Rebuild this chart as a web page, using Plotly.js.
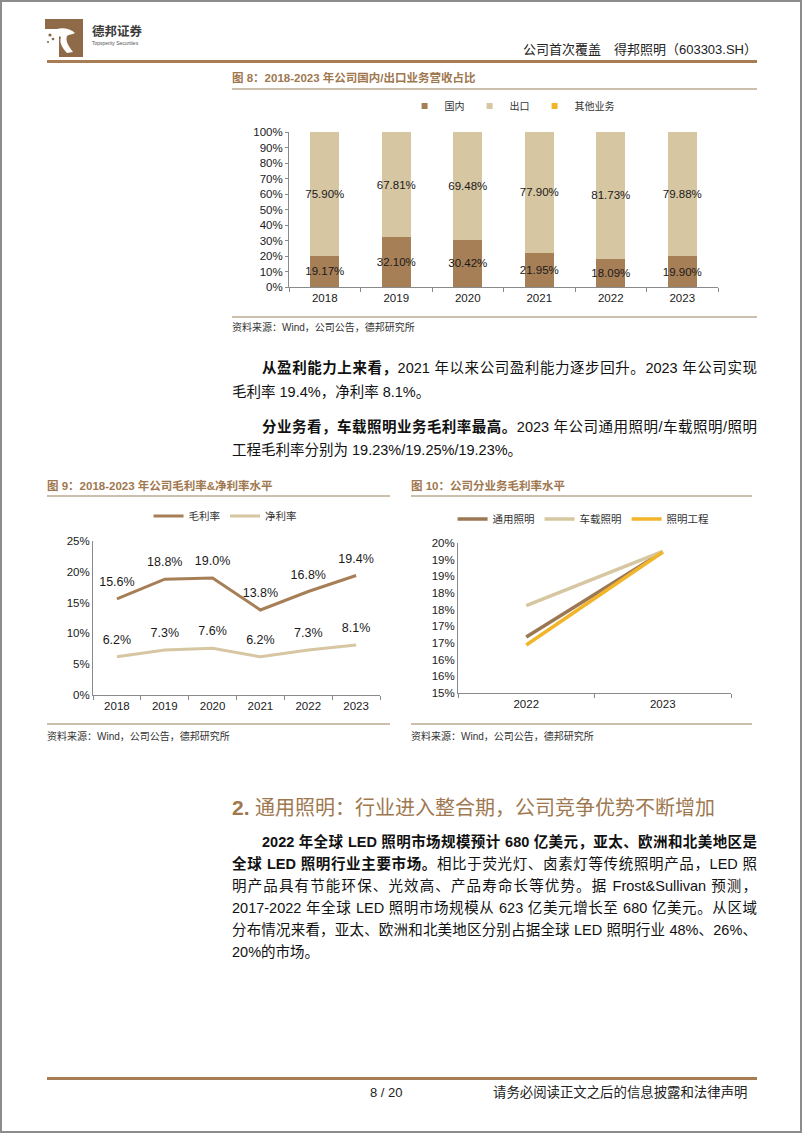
<!DOCTYPE html>
<html><head><meta charset="utf-8">
<script src="https://cdn.plot.ly/plotly-3.0.1.min.js"></script>
<style>
html,body{margin:0;padding:0;background:#fff;}
#page{position:relative;width:802px;height:1133px;overflow:hidden;font-family:"Liberation Sans","Noto Sans CJK SC",sans-serif;color:#111;background:#fff;}
#frame{position:absolute;left:0;top:0;width:802px;height:1133px;box-sizing:border-box;border:2px solid #8c8c8c;pointer-events:none;}
.abs{position:absolute;white-space:nowrap;}
.hl{position:absolute;}
.ln{position:absolute;font-size:14.5px;line-height:22px;height:22px;text-align:justify;text-align-last:justify;overflow:visible;}
.ln.last{text-align-last:left;}
.ln b{font-weight:700;}
.ftitle{position:absolute;font-size:11.5px;font-weight:700;color:#a0784f;white-space:nowrap;line-height:14px;}
.src{position:absolute;font-size:10px;color:#333;white-space:nowrap;line-height:12px;}
.chart{position:absolute;}
</style>
</head><body>
<div id="page">
  <!-- header -->
  <svg class="abs" style="left:45px;top:19px" width="38" height="38" viewBox="0 0 38 38">
    <rect x="0" y="0" width="38" height="10" fill="#8f6a48"/>
    <rect x="14" y="0" width="24" height="38" fill="#8f6a48"/>
    <path d="M12,10 C18,8 26,10 30,14 C27,16 24,15 22,17 C20,22 24,28 28,33 L22,34 C17,29 14,23 16,18 C13,17 11,14 12,10 Z" fill="#fff"/>
    <circle cx="5" cy="16" r="1.6" fill="#8f6a48"/>
    <circle cx="8" cy="20" r="1.3" fill="#8f6a48"/>
    <circle cx="3" cy="23" r="1.1" fill="#8f6a48"/>
  </svg>
  <div class="abs" style="left:92px;top:23px;font-size:12.5px;font-weight:700;color:#3a3a3a;font-family:'Noto Sans CJK SC';line-height:16px;">德邦证券</div>
  <div class="abs" style="left:92px;top:40px;font-size:5px;color:#555;line-height:6px;">Topsperity Securities</div>
  <div class="abs" style="right:45px;top:41px;font-size:13px;color:#222;line-height:18px;">公司首次覆盖　得邦照明（603303.SH）</div>
  <div class="hl" style="left:47px;top:60px;width:710px;height:3px;background:#a87d56;"></div>

  <!-- Figure 8 -->
  <div class="ftitle" style="left:232px;top:71px;">图 8：2018-2023 年公司国内/出口业务营收占比</div>
  <div class="hl" style="left:232px;top:88px;width:525px;height:2px;background:#cdbfae;"></div>
  <div id="c1" class="chart" style="left:232px;top:95px;width:525px;height:220px;"></div>
  <div class="hl" style="left:232px;top:316px;width:525px;height:2px;background:#cdbfae;"></div>
  <div class="src" style="left:232px;top:322px;">资料来源：Wind，公司公告，德邦研究所</div>

  <!-- paragraphs -->
  <div class="ln" style="left:262px;top:357px;width:495px;"><b>从盈利能力上来看，</b>2021 年以来公司盈利能力逐步回升。2023 年公司实现</div>
  <div class="ln last" style="left:232px;top:381px;width:525px;">毛利率 19.4%，净利率 8.1%。</div>
  <div class="ln" style="left:262px;top:416px;width:495px;"><b>分业务看，车载照明业务毛利率最高。</b>2023 年公司通用照明/车载照明/照明</div>
  <div class="ln last" style="left:232px;top:439px;width:525px;">工程毛利率分别为 19.23%/19.25%/19.23%。</div>

  <!-- Figure 9 -->
  <div class="ftitle" style="left:47px;top:479px;">图 9：2018-2023 年公司毛利率&amp;净利率水平</div>
  <div class="hl" style="left:47px;top:495px;width:343px;height:2px;background:#cdbfae;"></div>
  <div id="c2" class="chart" style="left:47px;top:500px;width:343px;height:222px;"></div>
  <div class="hl" style="left:47px;top:723px;width:343px;height:2px;background:#cdbfae;"></div>
  <div class="src" style="left:47px;top:731px;">资料来源：Wind，公司公告，德邦研究所</div>

  <!-- Figure 10 -->
  <div class="ftitle" style="left:411px;top:479px;">图 10：公司分业务毛利率水平</div>
  <div class="hl" style="left:411px;top:495px;width:341px;height:2px;background:#cdbfae;"></div>
  <div id="c3" class="chart" style="left:411px;top:500px;width:341px;height:222px;"></div>
  <div class="hl" style="left:411px;top:723px;width:341px;height:2px;background:#cdbfae;"></div>
  <div class="src" style="left:411px;top:731px;">资料来源：Wind，公司公告，德邦研究所</div>

  <!-- Section 2 -->
  <div class="abs" style="left:232px;top:795px;font-size:20px;color:#a0784f;line-height:26px;"><span style="font-weight:700;font-size:21px;">2.</span> 通用照明：行业进入整合期，公司竞争优势不断增加</div>
  <div class="ln" style="left:262px;top:831px;width:495px;"><b>2022 年全球 LED 照明市场规模预计 680 亿美元，亚太、欧洲和北美地区是</b></div>
  <div class="ln" style="left:232px;top:853px;width:525px;"><b>全球 LED 照明行业主要市场。</b>相比于荧光灯、卤素灯等传统照明产品，LED 照</div>
  <div class="ln" style="left:232px;top:875px;width:525px;">明产品具有节能环保、光效高、产品寿命长等优势。据 Frost&amp;Sullivan 预测，</div>
  <div class="ln" style="left:232px;top:897px;width:525px;">2017-2022 年全球 LED 照明市场规模从 623 亿美元增长至 680 亿美元。从区域</div>
  <div class="ln" style="left:232px;top:919px;width:525px;">分布情况来看，亚太、欧洲和北美地区分别占据全球 LED 照明行业 48%、26%、</div>
  <div class="ln last" style="left:232px;top:941px;width:525px;">20%的市场。</div>

  <!-- footer -->
  <div class="hl" style="left:47px;top:1077px;width:710px;height:3px;background:#a87d56;"></div>
  <div class="abs" style="left:370px;top:1085px;font-size:13px;color:#222;line-height:16px;">8 / 20</div>
  <div class="abs" style="left:493px;top:1085px;font-size:13.4px;color:#222;line-height:16px;">请务必阅读正文之后的信息披露和法律声明</div>
  <div id="frame"></div>
</div>
<script>
// ---------- data ----------
var years = ['2018','2019','2020','2021','2022','2023'];
var domestic = [19.17, 32.10, 30.42, 21.95, 18.09, 19.90];
var exportShare = [75.90, 67.81, 69.48, 77.90, 81.73, 79.88];
var otherBiz = [0, 0, 0, 0, 0, 0];
var seriesNames1 = ['国内', '出口', '其他业务'];

var grossMargin = [15.6, 18.8, 19.0, 13.8, 16.8, 19.4];
var netMargin = [6.2, 7.3, 7.6, 6.2, 7.3, 8.1];
var seriesNames2 = ['毛利率', '净利率'];

var years3 = ['2022', '2023'];
var generalLighting = [16.68, 19.23];
var vehicleLighting = [17.62, 19.25];
var engineeringLighting = [16.44, 19.23];
var seriesNames3 = ['通用照明', '车载照明', '照明工程'];
var yTickVals3 = [15, 15.5, 16, 16.5, 17, 17.5, 18, 18.5, 19, 19.5];
var yTickText3 = ['15%', '16%', '16%', '17%', '17%', '18%', '18%', '19%', '19%', '20%'];

var cBrown = '#a67f57', cTan = '#d6c6a2', cGold = '#f2b52a';
var FONT = 'Liberation Sans, Noto Sans CJK SC, sans-serif';
var axisCol = '#8a8a8a';
var cfg = {displayModeBar:false, staticPlot:true};

function pct(a){ return a.map(function(v){ return v.toFixed(2) + '%'; }); }

// ---------- chart 1 ----------
var t1 = [
  {type:'bar', x:years, y:domestic, name:seriesNames1[0], marker:{color:cBrown}, showlegend:false,
   text:pct(domestic), textposition:'inside', insidetextanchor:'middle', constraintext:'none', textangle:0,
   textfont:{size:11.5, color:'#1a1a1a', family:FONT}},
  {type:'bar', x:years, y:exportShare, name:seriesNames1[1], marker:{color:cTan}, showlegend:false,
   text:pct(exportShare), textposition:'inside', insidetextanchor:'middle', constraintext:'none', textangle:0,
   textfont:{size:11.5, color:'#1a1a1a', family:FONT}},
  {type:'bar', x:years, y:otherBiz, name:seriesNames1[2], marker:{color:cGold}, showlegend:false, textposition:'none'},
  {type:'scatter', mode:'markers', x:[null], y:[null], name:seriesNames1[0], marker:{symbol:'square', size:6, color:cBrown}},
  {type:'scatter', mode:'markers', x:[null], y:[null], name:seriesNames1[1], marker:{symbol:'square', size:6, color:cTan}},
  {type:'scatter', mode:'markers', x:[null], y:[null], name:seriesNames1[2], marker:{symbol:'square', size:6, color:cGold}}
];
var l1 = {
  width:525, height:220, margin:{l:57, r:39, t:37, b:28, autoexpand:false},
  barmode:'stack', barnorm:'percent', bargap:0.6,
  paper_bgcolor:'rgba(0,0,0,0)', plot_bgcolor:'rgba(0,0,0,0)',
  font:{family:FONT, size:11.5, color:'#1a1a1a'},
  xaxis:{type:'category', categoryarray:years, range:[-0.5, years.length-0.5], showline:true, linecolor:axisCol, ticks:'outside', tickson:'boundaries',
         ticklen:4, tickcolor:axisCol, showgrid:false, zeroline:false},
  yaxis:{range:[0,100], dtick:10, ticksuffix:'%', showline:true, linecolor:axisCol, ticks:'outside', ticklen:3,
         tickcolor:axisCol, showgrid:false, zeroline:false},
  legend:{orientation:'h', traceorder:'normal', x:0.52, xanchor:'center', y:1.168, yanchor:'middle', font:{size:10, family:'Noto Sans CJK SC', color:'#333'}, itemwidth:30},
  showlegend:true
};
Plotly.newPlot('c1', t1, l1, cfg);

// ---------- chart 2 ----------
function lbl1(a){ return a.map(function(v){ return v.toFixed(1) + '%'; }); }
var clear = 'rgba(0,0,0,0)';
var t2 = [
  {type:'scatter', mode:'lines+markers+text', x:years, y:grossMargin, name:seriesNames2[0], line:{color:cBrown, width:3},
   marker:{size:14, color:clear, line:{width:0, color:clear}},
   text:lbl1(grossMargin), textposition:'top center',
   textfont:{size:12.5, color:'#1a1a1a', family:FONT}},
  {type:'scatter', mode:'lines+markers+text', x:years, y:netMargin, name:seriesNames2[1], line:{color:cTan, width:3},
   marker:{size:14, color:clear, line:{width:0, color:clear}},
   text:lbl1(netMargin), textposition:'top center',
   textfont:{size:12.5, color:'#1a1a1a', family:FONT}}
];
var l2 = {
  width:343, height:222, margin:{l:46, r:10, t:41, b:27, autoexpand:false},
  paper_bgcolor:'rgba(0,0,0,0)', plot_bgcolor:'rgba(0,0,0,0)',
  font:{family:FONT, size:11.5, color:'#1a1a1a'},
  xaxis:{type:'category', range:[-0.5, years.length-0.5], showline:true, linecolor:axisCol, ticks:'outside', tickson:'boundaries', ticklen:4,
         tickcolor:axisCol, showgrid:false, zeroline:false},
  yaxis:{range:[0,25], dtick:5, ticksuffix:'%', showline:true, linecolor:axisCol, ticks:'', showgrid:false, zeroline:false},
  legend:{orientation:'h', x:0.46, xanchor:'center', y:1.162, yanchor:'middle', font:{size:10.5, family:'Noto Sans CJK SC', color:'#333'}},
  showlegend:true
};
Plotly.newPlot('c2', t2, l2, cfg);

// ---------- chart 3 ----------
var t3 = [
  {type:'scatter', mode:'lines', x:years3, y:generalLighting, name:seriesNames3[0], line:{color:'#9c7753', width:3.5}},
  {type:'scatter', mode:'lines', x:years3, y:vehicleLighting, name:seriesNames3[1], line:{color:cTan, width:3.5}},
  {type:'scatter', mode:'lines', x:years3, y:engineeringLighting, name:seriesNames3[2], line:{color:cGold, width:3.5}}
];
var l3 = {
  width:341, height:222, margin:{l:47, r:21, t:43, b:29, autoexpand:false},
  paper_bgcolor:'rgba(0,0,0,0)', plot_bgcolor:'rgba(0,0,0,0)',
  font:{family:FONT, size:11.5, color:'#1a1a1a'},
  xaxis:{type:'category', range:[-0.5, years3.length-0.5], showline:true, linecolor:axisCol, ticks:'outside', tickson:'boundaries', ticklen:4,
         tickcolor:axisCol, showgrid:false, zeroline:false},
  yaxis:{range:[15,19.5], tickmode:'array', tickvals:yTickVals3, ticktext:yTickText3, showline:true, linecolor:axisCol,
         ticks:'', showgrid:false, zeroline:false},
  legend:{orientation:'h', x:0.46, xanchor:'center', y:1.16, yanchor:'middle', font:{size:10.5, family:'Noto Sans CJK SC', color:'#333'}},
  showlegend:true
};
Plotly.newPlot('c3', t3, l3, cfg);
</script>
</body></html>
